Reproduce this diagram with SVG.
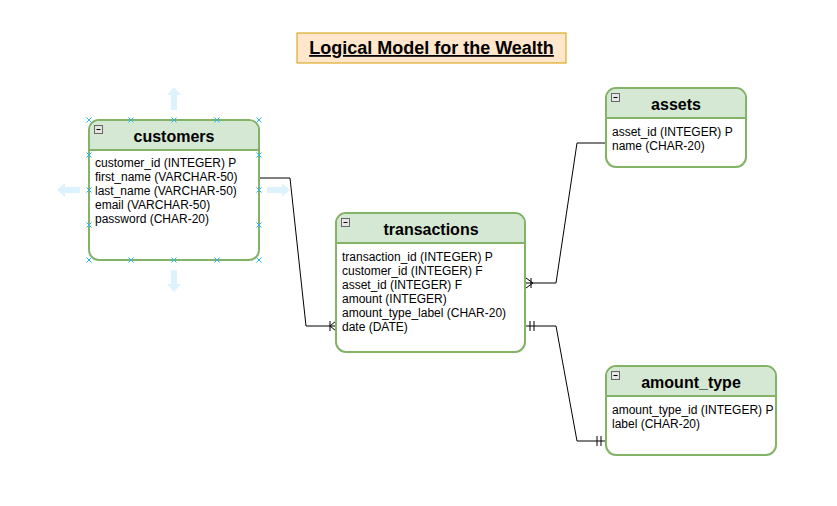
<svg xmlns="http://www.w3.org/2000/svg" width="837" height="506" viewBox="0 0 837 506">
<style>
.ent{fill:#ffffff;stroke:#82b366;stroke-width:2}
.hdr{fill:#d5e8d4;stroke:none}
.sep{stroke:#82b366;stroke-width:2}
.ttl{font-family:"Liberation Sans",Arial,sans-serif;font-size:16px;font-weight:bold;fill:#000;text-anchor:middle}
.fld{font-family:"Liberation Sans",Arial,sans-serif;font-size:12px;fill:#000}
.mn{fill:#e6e6e6;stroke:#666;stroke-width:1}
.ln{fill:none;stroke:#000;stroke-width:1}
.hx{stroke:#29b6f2;stroke-width:1}
.ha{fill:#dcf2fc}
</style>
<defs>
<g id="minus"><rect class="mn" x="0.5" y="0.5" width="8" height="8"/><line x1="2.5" y1="4.5" x2="6.5" y2="4.5" stroke="#000" stroke-width="1"/></g>
<path id="hx" d="M-2.5,-2.5L2.5,2.5M-2.5,2.5L2.5,-2.5"/>
</defs>

<g id="title">
<rect x="297" y="33" width="269" height="30" fill="#ffe6cc" stroke="#d79b00" stroke-width="1"/>
<text x="431.5" y="54" class="ttl" style="font-size:18px;text-decoration:underline">Logical Model for the Wealth</text>
</g>

<g id="connectors">
<polyline class="ln" points="259,178 290,178 306,326 336,326"/>
<line class="ln" x1="330" y1="321" x2="330" y2="331"/>
<path class="ln" d="M336,321L330,326L336,331"/>
<polyline class="ln" points="525,283 556,283 577,143 606,143"/>
<line class="ln" x1="531" y1="278" x2="531" y2="288"/>
<path class="ln" d="M526,278L533,283L526,288"/>
<polyline class="ln" points="525,326 556,326 577,441 606,441"/>
<line class="ln" x1="530" y1="321" x2="530" y2="331"/>
<line class="ln" x1="534" y1="321" x2="534" y2="331"/>
<line class="ln" x1="597" y1="436" x2="597" y2="446"/>
<line class="ln" x1="601" y1="436" x2="601" y2="446"/>
</g>

<g id="customers">
<rect class="ent" x="89" y="120" width="170" height="140" rx="10"/>
<path class="hdr" d="M99,121H249A9,9 0 0 1 258,130V150H90V130A9,9 0 0 1 99,121Z"/>
<line class="sep" x1="89" y1="150" x2="259" y2="150"/>
<use href="#minus" x="94" y="125"/>
<text x="174" y="142" class="ttl">customers</text>
<text class="fld" x="95" y="167">customer_id (INTEGER) P</text>
<text class="fld" x="95" y="181">first_name (VARCHAR-50)</text>
<text class="fld" x="95" y="195">last_name (VARCHAR-50)</text>
<text class="fld" x="95" y="209">email (VARCHAR-50)</text>
<text class="fld" x="95" y="223">password (CHAR-20)</text>
</g>

<g id="selection">
<path class="ha" d="M174,87L181,95H177V110H171V95H167Z"/>
<path class="ha" d="M174,292L181,284H177V270H171V284H167Z"/>
<path class="ha" d="M57,190L65,183V187H80V193H65V197Z"/>
<path class="ha" d="M290,190L282,183V187H267V193H282V197Z"/>
<g class="hx">
<use href="#hx" x="89" y="120"/><use href="#hx" x="131" y="120"/><use href="#hx" x="174" y="120"/><use href="#hx" x="217" y="120"/><use href="#hx" x="259" y="120"/>
<use href="#hx" x="89" y="260"/><use href="#hx" x="131" y="260"/><use href="#hx" x="174" y="260"/><use href="#hx" x="217" y="260"/><use href="#hx" x="259" y="260"/>
<use href="#hx" x="89" y="155"/><use href="#hx" x="89" y="190"/><use href="#hx" x="89" y="225"/>
<use href="#hx" x="259" y="155"/><use href="#hx" x="259" y="190"/><use href="#hx" x="259" y="225"/>
</g>
</g>

<g id="transactions">
<rect class="ent" x="336" y="213" width="189" height="139" rx="10"/>
<path class="hdr" d="M346,214H515A9,9 0 0 1 524,223V243H337V223A9,9 0 0 1 346,214Z"/>
<line class="sep" x1="336" y1="243" x2="525" y2="243"/>
<use href="#minus" x="341" y="218"/>
<text x="431" y="235" class="ttl">transactions</text>
<text class="fld" x="342" y="261">transaction_id (INTEGER) P</text>
<text class="fld" x="342" y="275">customer_id (INTEGER) F</text>
<text class="fld" x="342" y="289">asset_id (INTEGER) F</text>
<text class="fld" x="342" y="303">amount (INTEGER)</text>
<text class="fld" x="342" y="317">amount_type_label (CHAR-20)</text>
<text class="fld" x="342" y="331">date (DATE)</text>
</g>

<g id="assets">
<rect class="ent" x="606" y="88" width="140" height="79" rx="10"/>
<path class="hdr" d="M616,89H736A9,9 0 0 1 745,98V118H607V98A9,9 0 0 1 616,89Z"/>
<line class="sep" x1="606" y1="118" x2="746" y2="118"/>
<use href="#minus" x="611" y="93"/>
<text x="676" y="110" class="ttl">assets</text>
<text class="fld" x="612" y="136">asset_id (INTEGER) P</text>
<text class="fld" x="612" y="150">name (CHAR-20)</text>
</g>

<g id="amount_type">
<rect class="ent" x="606" y="366" width="170" height="89" rx="10"/>
<path class="hdr" d="M616,367H766A9,9 0 0 1 775,376V396H607V376A9,9 0 0 1 616,367Z"/>
<line class="sep" x1="606" y1="396" x2="776" y2="396"/>
<use href="#minus" x="611" y="371"/>
<text x="691" y="388" class="ttl">amount_type</text>
<text class="fld" x="612" y="414">amount_type_id (INTEGER) P</text>
<text class="fld" x="612" y="428">label (CHAR-20)</text>
</g>
</svg>
